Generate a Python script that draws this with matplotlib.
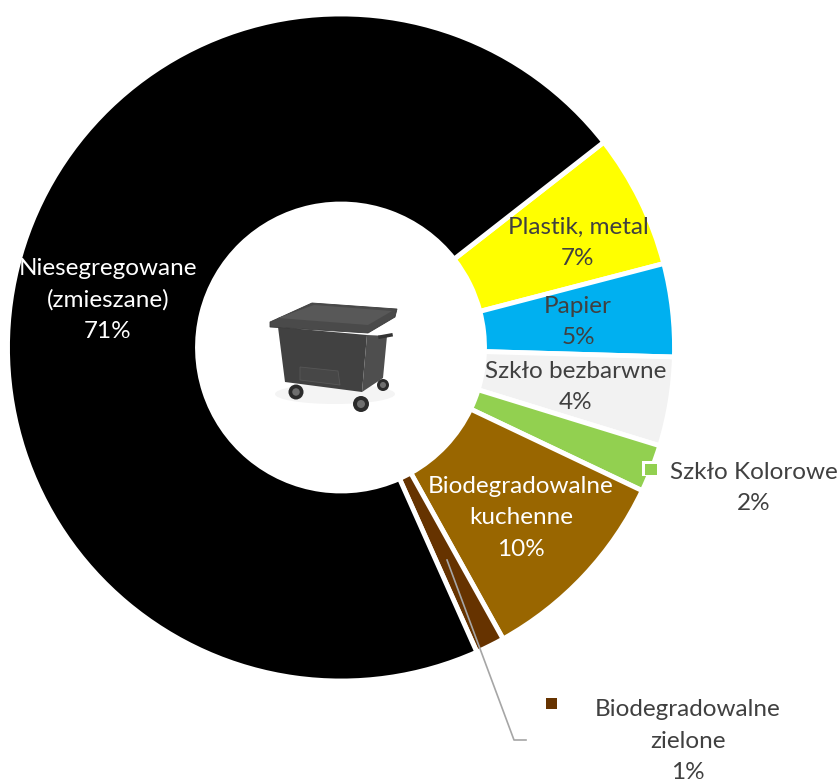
import numpy as np
import matplotlib
matplotlib.use("Agg")
import matplotlib.pyplot as plt
from matplotlib.patches import Rectangle, Polygon, Circle, Ellipse

plt.rcParams["font.family"] = ["Lato", "DejaVu Sans"]

# clockwise from the top-right edge of the black slice
labels = ["Plastik, metal\n7%", "Papier\n5%", "Szkło bezbarwne\n4%", "Szkło Kolorowe\n2%",
          "Biodegradowalne\nkuchenne\n10%", "Biodegradowalne\nzielone\n1%",
          "Niesegregowane\n(zmieszane)\n71%"]
# the printed percents are rounded
values = [6.5, 4.5, 4.3, 2.3, 9.85, 1.4, 71.05]
colors = ["#FFFF00", "#00B0F0", "#F2F2F2", "#92D050", "#996600", "#663300", "#000000"]
text_colors = ["#404040", "#404040", "#404040", "#404040", "#FFFFFF", "#404040", "#FFFFFF"]
label_x = [578, 578, 576, 754, 521, 688, 108]
label_y = [243, 322, 387, 488, 518, 741, 300]

fig = plt.figure(figsize=(8.39, 7.82), dpi=100)
ax = fig.add_axes([0, 0, 1, 1])

# y is flipped later, so counterclock=True runs clockwise on screen
ax.pie(values, colors=colors, startangle=-38, counterclock=True, center=(341, 347.5),
       radius=333.5, frame=False,
       wedgeprops=dict(width=190, edgecolor="white", linewidth=3.5))
ax.set_aspect("equal")
ax.set_xlim(0, 839)
ax.set_ylim(782, 0)
ax.axis("off")

for lab, col, x, y in zip(labels, text_colors, label_x, label_y):
    ax.text(x, y, lab, ha="center", va="center", fontsize=17.5, color=col,
            linespacing=1.62, zorder=5)

# legend keys next to the outside labels
ax.add_patch(Rectangle((642, 461), 15, 15, fc="white", ec="none", zorder=3))
ax.add_patch(Rectangle((645, 464), 11.5, 11, fc=colors[3], ec="none", zorder=4))
ax.add_patch(Rectangle((546, 698), 10.5, 11, fc=colors[5], ec="none", zorder=4))

# leader line
ax.plot([447, 514, 526], [560, 740, 740], color="#A6A6A6", lw=1.2, zorder=4)

# bin icon in the hole
ax.add_patch(Ellipse((335, 394), 120, 20, fc="#F4F4F4", ec="none", zorder=2))
ax.add_patch(Polygon([(278, 327), (367, 335), (362, 392), (285, 382)], fc="#414141", ec="none", zorder=3))
ax.add_patch(Polygon([(367, 335), (387, 336), (383, 378), (362, 392)], fc="#4E4E4E", ec="none", zorder=3))
ax.add_patch(Polygon([(300, 367), (338, 371), (340, 385), (300, 380)], fc="#474747", ec="#575757", lw=0.6, zorder=3))
ax.add_patch(Polygon([(270, 322), (312, 303), (397, 309), (395, 317), (368, 333), (270, 327)],
                     fc="#4A4A4A", ec="#3A3A3A", lw=0.6, zorder=3))
ax.add_patch(Polygon([(278, 318), (314, 305), (392, 311), (368, 325)], fc="#585858", ec="none", zorder=3))
ax.plot([380, 391], [337, 335], color="#333333", lw=2.5, zorder=3)
for cx, cy, r in [(383, 385, 6), (296, 392, 7.5), (361, 404, 8)]:
    ax.add_patch(Circle((cx, cy), r, fc="#2B2B2B", ec="none", zorder=4))
    ax.add_patch(Circle((cx, cy), r * 0.5, fc="#6E6E6E", ec="none", zorder=4))

fig.savefig("out.png", dpi=100)
